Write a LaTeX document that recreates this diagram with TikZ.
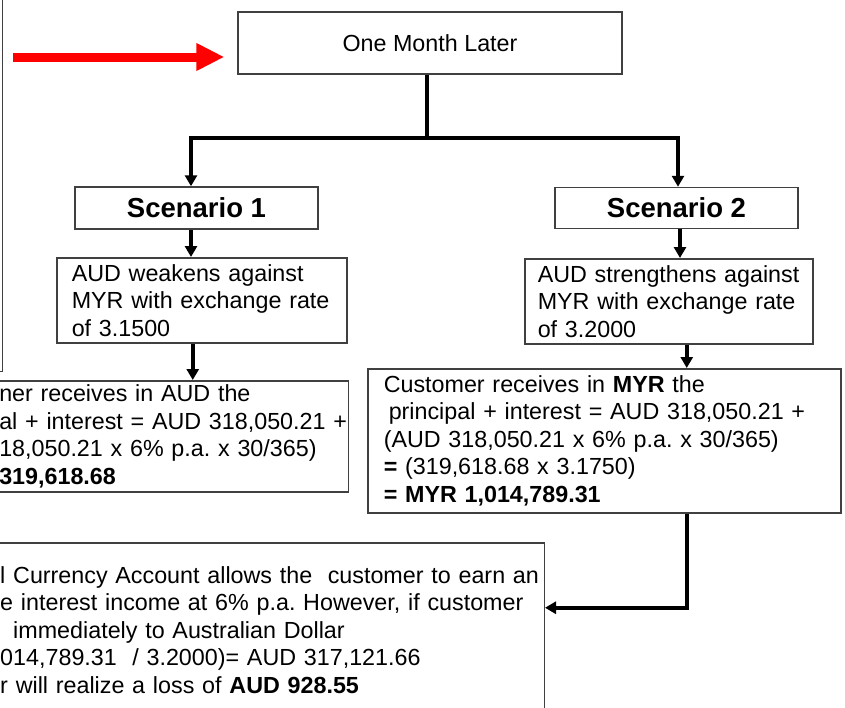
\documentclass[tikz,border=0pt]{standalone}
\usepackage{fontspec}
\setmainfont{Liberation Sans}
\usepackage{tikz}
\usetikzlibrary{arrows.meta,positioning,calc}

\begin{document}
\begin{tikzpicture}[x=1pt,y=-1pt,>={Triangle[length=11pt,width=12pt]},
  font=\fontsize{23.3}{27.5}\selectfont\frenchspacing,
  box/.style={draw=black!75,line width=1.5pt,inner sep=0pt},
  para/.style={box,align=left,inner ysep=0pt},
  title/.style={box,font=\fontsize{27.5}{33}\selectfont\bfseries},
  link/.style={line width=4pt},
  hot/.style={red,line width=9pt,-{Triangle[length=28pt,width=26pt]}}]
  \useasboundingbox (0,0) rectangle (845,707);
  % earlier step, cut off at the left edge
  \node[box,anchor=south east,minimum width=300pt,minimum height=400pt] (prev) at (3,372) {};
  \node[box,minimum width=384pt,minimum height=62pt] (later) at (430,43) {One Month Later};
  \node[title,minimum width=243pt,minimum height=42pt] (s1) at (196.5,208) {Scenario 1};
  \node[title,minimum width=243pt,minimum height=41pt] (s2) at (676.5,208) {Scenario 2};
  \node[para,anchor=north west,inner xsep=15pt,text width=260pt,minimum height=85pt] (w1) at (56,257)
    {AUD weakens against\\MYR with exchange rate\\of 3.1500};
  \node[para,anchor=north west,inner xsep=13pt,text width=262pt,minimum height=85pt] (w2) at (524,258)
    {\mbox{AUD strengthens against}\\MYR with exchange rate\\of 3.2000};
  \node[para,anchor=north east,inner xsep=4pt,text width=345pt,minimum height=111pt] (c1) at (349,380)
    {ner receives in AUD the\\\mbox{al + interest = AUD 318,050.21 +}\\18,050.21 x 6\% p.a. x 30/365)\\\textbf{319,618.68}};
  \node[para,anchor=north west,inner xsep=16pt,text width=441pt,minimum height=144pt] (c2) at (367,368)
    {Customer receives in \textbf{MYR} the\\\hspace*{5pt}principal + interest = AUD 318,050.21 +\\(AUD 318,050.21 x 6\% p.a. x 30/365)\\\textbf{=} (319,618.68 x 3.1750)\\\textbf{= MYR 1,014,789.31}};
  \node[para,anchor=north east,inner xsep=8pt,text width=536pt,minimum height=174pt] (loss) at (545,542)
    {\mbox{l Currency Account allows the~ customer to earn an}\\e interest income at 6\% p.a. However, if customer\\\hspace*{13pt}immediately to Australian Dollar\\014,789.31~ / 3.2000)= AUD 317,121.66\\r will realize a loss of \textbf{AUD 928.55}};

  \coordinate (redtail) at (13,57);
  \draw[hot,shorten >=13pt] (redtail) -- (redtail -| later.west);

  \coordinate (split) at (427,138);
  \draw[link] ([xshift=-3pt]later.south) -- (split);
  \draw[link,->] (split) -| ([xshift=-5.5pt]s1.north);
  \draw[link,->] (split) -| ([xshift=1.5pt]s2.north);
  \draw[link,->] ([xshift=-5.5pt]s1.south) -- ([xshift=-5.5pt]s1.south |- w1.north);
  \draw[link,->] ([xshift=3.5pt]s2.south) -- ([xshift=3.5pt]s2.south |- w2.north);
  \draw[link,->] ([xshift=-9pt]w1.south) -- ([xshift=-9pt]w1.south |- c1.north);
  \draw[link,->] ([xshift=18pt]w2.south) -- ([xshift=18pt]w2.south |- c2.north);
  \draw[link,->] ([xshift=82.5pt]c2.south) |- ([yshift=22pt]loss.east);
\end{tikzpicture}
\end{document}
